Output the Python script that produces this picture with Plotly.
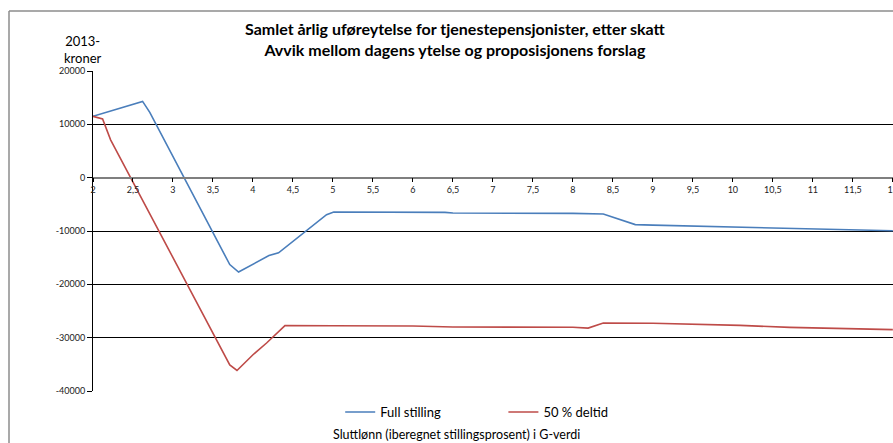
import plotly.graph_objects as go

# Data
full_x = [2.0, 2.62, 2.71, 3.71, 3.82, 4.2, 4.32, 4.92, 5.01, 5.5, 6.0, 6.4, 6.5, 7.0, 7.5, 8.0, 8.38, 8.78, 9.0, 9.46, 10.09, 10.71, 11.34, 12.0]
full_y = [11500, 14300, 12250, -16300, -17700, -14600, -14100, -6950, -6450, -6450, -6500, -6500, -6630, -6630, -6700, -6700, -6810, -8800, -8900, -9070, -9320, -9560, -9760, -9950]

part_x = [2.0, 2.12, 2.22, 3.71, 3.80, 4.0, 4.17, 4.4, 5.0, 5.5, 6.0, 6.5, 7.0, 7.5, 8.0, 8.19, 8.38, 9.0, 9.46, 10.09, 10.71, 11.34, 12.0]
part_y = [11500, 11000, 7100, -35100, -36150, -33200, -31000, -27750, -27760, -27760, -27800, -28000, -28000, -28050, -28050, -28200, -27260, -27300, -27450, -27700, -28070, -28300, -28500]

x_tickvals = [2, 2.5, 3, 3.5, 4, 4.5, 5, 5.5, 6, 6.5, 7, 7.5, 8, 8.5, 9, 9.5, 10, 10.5, 11, 11.5, 12]
x_ticktext = [str(v).replace(".", ",") if v != int(v) else str(int(v)) for v in x_tickvals]
y_tickvals = [20000, 10000, 0, -10000, -20000, -30000, -40000]
y_ticktext = [str(v) for v in y_tickvals]

FONT = "Lato, 'Open Sans', sans-serif"

fig = go.Figure()
fig.add_trace(go.Scatter(x=full_x, y=full_y, mode="lines", name="Full stilling",
                         line=dict(color="#4a7ebb", width=1.6), legend="legend"))
fig.add_trace(go.Scatter(x=part_x, y=part_y, mode="lines", name="50 % deltid",
                         line=dict(color="#be4b48", width=1.6), legend="legend2"))

fig.update_layout(
    width=893, height=443,
    margin=dict(l=93, r=0, t=71, b=52, autoexpand=False),
    paper_bgcolor="white", plot_bgcolor="white",
    font=dict(family=FONT, color="#000"),
    showlegend=True,
    legend=dict(orientation="h", x=0.309, y=-0.066, xanchor="left", yanchor="middle",
                font=dict(size=13, family=FONT), bgcolor="rgba(0,0,0,0)"),
    legend2=dict(orientation="h", x=0.513, y=-0.066, xanchor="left", yanchor="middle",
                 font=dict(size=13, family=FONT), bgcolor="rgba(0,0,0,0)"),
    xaxis=dict(range=[2, 12.002], tickvals=x_tickvals, ticktext=x_ticktext,
               anchor="free", position=40000 / 60000, automargin=False, ticklabeloverflow="allow",
               showgrid=False, zeroline=False, showline=True, linecolor="#7f7f7f", linewidth=1.5,
               ticks="outside", ticklen=4, tickcolor="#000", tickfont=dict(size=9, color="#222")),
    yaxis=dict(range=[-40000, 20000], tickvals=y_tickvals, ticktext=y_ticktext, automargin=False,
               showgrid=True, gridcolor="#000", gridwidth=1,
               zeroline=False, showline=True, linecolor="#000", linewidth=1,
               ticks="outside", ticklen=5, tickcolor="#000", tickfont=dict(size=9, color="#222")),
    annotations=[
        dict(text="<b>Samlet årlig uføreytelse for tjenestepensjonister, etter skatt<br>Avvik mellom dagens ytelse og proposisjonens forslag</b>",
             xref="paper", yref="paper", x=0.453, y=1.1, xanchor="center", yanchor="middle",
             showarrow=False, font=dict(size=16, family=FONT)),
        dict(text="2013-<br>kroner", xref="paper", yref="paper", x=-0.0125, y=1.066,
             xanchor="center", yanchor="middle", showarrow=False, font=dict(size=13, family=FONT)),
        dict(text="Sluttlønn (iberegnet stillingsprosent) i G-verdi", xref="paper", yref="paper",
             x=0.454, y=-0.135, xanchor="center", yanchor="middle", showarrow=False,
             font=dict(size=12.5, family=FONT)),
    ],
    shapes=[
        dict(type="line", xref="paper", yref="paper", x0=-0.105, x1=-0.105, y0=-0.3, y1=1.1875,
             line=dict(color="#8c8c8c", width=1.5)),
        dict(type="line", xref="paper", yref="paper", x0=-0.105, x1=1.05, y0=1.1875, y1=1.1875,
             line=dict(color="#8c8c8c", width=1.5)),
    ],
)

fig.write_html("out.html", config={"displayModeBar": False},
               post_script="document.body.style.margin='0';document.body.style.overflow='hidden';")
